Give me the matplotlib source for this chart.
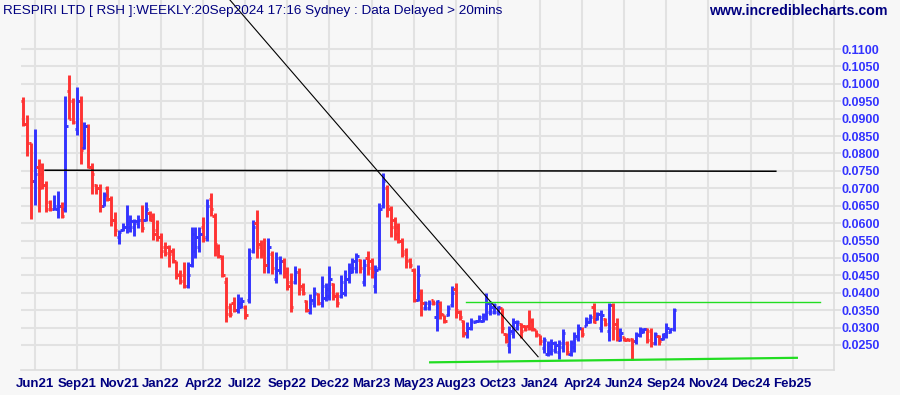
import matplotlib
matplotlib.use("Agg")
import matplotlib.pyplot as plt
import numpy as np

# ---------------- data (weekly OHLC, price in $) ----------------
highs = [.0962,.0911,.0831,.0871,.0785,.0773,.0721,.0665,.0681,.0691,.0660,.0965,.1026,.0960,.0990,.0965,.0890,.0885,.0773,.0712,
         .0712,.0689,.0708,.0679,.0631,.0580,.0600,.0651,.0622,.0612,.0622,.0651,.0660,.0636,
         .0628,.0609,.0573,.0545,.0537,.0528,.0491,.0465,.0489,.0489,.0588,.0588,.0588,.0617,.0668,.0686,.0628,.0540,.0509,.0446,
         .0370,.0389,.0396,.0389,.0365,.0528,.0609,.0638,.0552,.0556,.0556,.0521,.0518,.0505,.0499,
         .0475,.0456,.0477,.0470,.0429,.0380,.0396,.0416,.0399,.0448,.0427,.0477,.0429,.0403,.0451,.0466,.0485,.0499,.0515,
         .0496,.0496,.0521,.0499,.0480,.0657,.0745,.0710,.0648,.0619,.0600,.0557,.0528,.0499,.0470,
         .0480,.0410,.0375,.0378,.0380,.0380,.0375,.0337,.0365,.0418,.0428,.0349,.0322,.0315,.0327,.0322,.0337,.0341,.0399,.0375,
         .0370,.0361,.0356,.0284,.0305,.0327,.0322,.0313,.0308,.0349,.0327,.0294,.0279,.0274,
         .0260,.0266,.0260,.0264,.0295,.0260,.0264,.0288,.0309,.0301,.0331,.0339,.0370,.0346,.0349,.0327,.0370,.0370,.0327,.0298,
         .0274,.0269,.0269,.0288,.0301,.0298,.0298,.0298,.0288,.0279,.0284,.0312,.0298,.0355]
lows = [.0880,.0792,.0612,.0653,.0633,.0697,.0633,.0635,.0637,.0614,.0616,.0631,.0898,.0885,.0854,.0771,.0813,.0758,.0684,.0683,
        .0633,.0649,.0664,.0593,.0564,.0541,.0578,.0572,.0574,.0563,.0585,.0574,.0607,.0607,
        .0552,.0550,.0499,.0505,.0473,.0485,.0439,.0425,.0413,.0413,.0473,.0499,.0518,.0547,.0550,.0621,.0506,.0500,.0444,.0317,
        .0331,.0346,.0343,.0355,.0324,.0370,.0513,.0499,.0499,.0458,.0458,.0454,.0429,.0455,.0442,
        .0408,.0346,.0425,.0394,.0394,.0346,.0339,.0360,.0365,.0360,.0375,.0380,.0380,.0360,.0384,.0391,.0427,.0456,.0456,
        .0456,.0418,.0451,.0442,.0399,.0466,.0643,.0619,.0560,.0552,.0544,.0504,.0470,.0470,.0372,
        .0375,.0332,.0351,.0349,.0365,.0289,.0324,.0313,.0332,.0360,.0327,.0322,.0272,.0270,.0294,.0313,.0315,.0315,.0322,.0337,
        .0340,.0337,.0284,.0255,.0227,.0270,.0294,.0270,.0289,.0292,.0289,.0274,.0250,.0226,
        .0217,.0221,.0226,.0209,.0231,.0221,.0217,.0231,.0260,.0274,.0303,.0312,.0312,.0322,.0288,.0303,.0260,.0264,.0260,.0260,
        .0260,.0260,.0207,.0253,.0274,.0284,.0255,.0245,.0250,.0250,.0264,.0270,.0284,.0290]
opens = [.0950,.0885,.0830,.0720,.0760,.0740,.0710,.0660,.0640,.0640,.0650,.0640,.0980,.0950,.0870,.0950,.0815,.0880,.0760,.0710,
         .0700,.0650,.0700,.0670,.0610,.0560,.0580,.0590,.0590,.0590,.0600,.0610,.0610,.0630,
         .0620,.0580,.0560,.0530,.0530,.0520,.0490,.0455,.0450,.0420,.0480,.0520,.0530,.0590,.0560,.0670,.0620,.0530,.0500,.0430,
         .0360,.0370,.0350,.0360,.0360,.0380,.0520,.0600,.0540,.0520,.0480,.0510,.0440,.0465,.0490,
         .0460,.0430,.0430,.0460,.0420,.0375,.0345,.0370,.0395,.0370,.0385,.0390,.0425,.0395,.0390,.0400,.0440,.0460,.0470,
         .0495,.0430,.0500,.0490,.0420,.0470,.0650,.0700,.0640,.0610,.0590,.0550,.0520,.0495,.0465,
         .0380,.0400,.0355,.0355,.0378,.0330,.0370,.0335,.0335,.0365,.0410,.0345,.0320,.0280,.0300,.0315,.0320,.0320,.0335,.0345,
         .0345,.0345,.0355,.0282,.0250,.0285,.0300,.0310,.0305,.0305,.0320,.0292,.0278,.0240,
         .0225,.0230,.0235,.0230,.0245,.0255,.0225,.0245,.0270,.0295,.0305,.0315,.0360,.0325,.0300,.0325,.0290,.0365,.0310,.0265,
         .0272,.0268,.0268,.0260,.0278,.0286,.0295,.0290,.0255,.0275,.0266,.0275,.0286,.0295]
closes = [.0885,.0830,.0720,.0740,.0700,.0710,.0640,.0640,.0650,.0650,.0620,.0880,.0900,.0890,.0950,.0810,.0880,.0760,.0740,.0700,
          .0650,.0680,.0670,.0610,.0580,.0575,.0590,.0600,.0605,.0605,.0610,.0585,.0640,.0610,
          .0570,.0560,.0520,.0515,.0510,.0490,.0450,.0435,.0420,.0450,.0570,.0560,.0570,.0555,.0650,.0640,.0540,.0505,.0450,.0340,
          .0340,.0350,.0370,.0375,.0335,.0500,.0590,.0530,.0510,.0480,.0530,.0470,.0500,.0490,.0455,
          .0420,.0360,.0460,.0410,.0400,.0350,.0380,.0400,.0370,.0420,.0410,.0440,.0390,.0370,.0430,.0440,.0470,.0490,.0505,
          .0470,.0480,.0470,.0460,.0466,.0640,.0720,.0650,.0590,.0570,.0550,.0510,.0490,.0480,.0380,
          .0450,.0370,.0370,.0370,.0370,.0375,.0340,.0320,.0355,.0400,.0350,.0330,.0285,.0300,.0320,.0320,.0330,.0335,.0370,.0360,
          .0365,.0360,.0300,.0262,.0290,.0315,.0315,.0290,.0295,.0300,.0295,.0280,.0260,.0265,
          .0250,.0255,.0250,.0255,.0285,.0230,.0255,.0275,.0300,.0280,.0325,.0330,.0315,.0340,.0335,.0310,.0365,.0300,.0270,.0285,
          .0265,.0264,.0262,.0280,.0295,.0295,.0265,.0255,.0280,.0260,.0280,.0300,.0295,.0350]

tick_labels = ["Jun21", "Sep21", "Nov21", "Jan22", "Apr22", "Jul22", "Sep22", "Dec22", "Mar23", "May23",
               "Aug23", "Oct23", "Jan24", "Apr24", "Jun24", "Sep24", "Nov24", "Dec24", "Feb25"]
ytick_values = [0.025, 0.030, 0.035, 0.040, 0.045, 0.050, 0.055, 0.060, 0.065, 0.070, 0.075,
                0.080, 0.085, 0.090, 0.095, 0.100, 0.105, 0.110]

# trend lines (bar index, price)
resist_x, resist_y = [5.7, 196.6], [0.0752, 0.0749]
down_x, down_y = [54.0, 134.5], [0.1241, 0.0216]
top_green_x, top_green_y = [115.7, 208.2], [0.0373, 0.0373]
low_green_x, low_green_y = [106.3, 202.1], [0.0200, 0.0213]

# ---------------- figure ----------------
W, H = 900, 395
fig = plt.figure(figsize=(W / 100, H / 100), dpi=100)
bg = "#f7f7f7"
fig.patch.set_facecolor(bg)
ax = fig.add_axes([20.7 / W, 25 / H, (834 - 20.7) / W, 370 / H])
ax.set_facecolor(bg)

n = min(len(highs), len(lows), len(opens), len(closes))
x = np.arange(n)
red, blue = "#ff3333", "#3333ff"
cols = [blue if closes[i] >= opens[i] else red for i in range(n)]
lw = 2.1
ax.vlines(x, lows[:n], highs[:n], colors=cols, linewidth=lw, zorder=3)
ax.hlines(opens[:n], x - 0.6, x, colors=cols, linewidth=lw, zorder=3)
ax.hlines(closes[:n], x, x + 0.6, colors=cols, linewidth=lw, zorder=3)

ax.plot(resist_x, resist_y, color="black", lw=1.1, zorder=4)
ax.plot(down_x, down_y, color="black", lw=0.8, zorder=4)
ax.plot(top_green_x, top_green_y, color="#22dd22", lw=1.0, zorder=4)
ax.plot(low_green_x, low_green_y, color="#22dd22", lw=1.6, zorder=4)

ax.set_xlim(-0.66, 211.8)
ax.set_ylim(0.0178, 0.1241)

ticks_x = [3 + 11 * i for i in range(len(tick_labels))]
ax.set_xticks(ticks_x)
ax.set_xticklabels(tick_labels, fontsize=9.5, fontweight="bold", color="#000080",
                   family=["Liberation Sans", "DejaVu Sans"])
ax.tick_params(axis="x", length=0, pad=6)

ax.yaxis.tick_right()
ax.set_yticks(ytick_values)
ax.set_yticklabels([f"{v:.4f}" for v in ytick_values], fontsize=9, fontweight="bold", color="#3333ff",
                   family=["Liberation Sans", "DejaVu Sans"])
ax.tick_params(axis="y", length=5, color="#dddddd", width=1.2, pad=0.5)

ax.grid(True, color="#e2e2e2", linewidth=1.5, zorder=0)
ax.set_axisbelow(True)
for side in ["top", "left"]:
    ax.spines[side].set_visible(False)
for side in ["right", "bottom"]:
    ax.spines[side].set_color("#dddddd")
    ax.spines[side].set_linewidth(1.2)

fig.text(3 / W, 1 - 11 / H, "RESPIRI LTD [ RSH ]:WEEKLY:20Sep2024 17:16 Sydney : Data Delayed > 20mins",
         fontsize=9.7, color="#000080", va="center", ha="left", family=["Liberation Sans", "DejaVu Sans"])
fig.text(888 / W, 1 - 11 / H, "www.incrediblecharts.com", fontsize=10.2, fontweight="bold", color="#000080",
         va="center", ha="right", family=["Liberation Sans", "DejaVu Sans"])

fig.savefig("out.png", dpi=100, facecolor=bg)
